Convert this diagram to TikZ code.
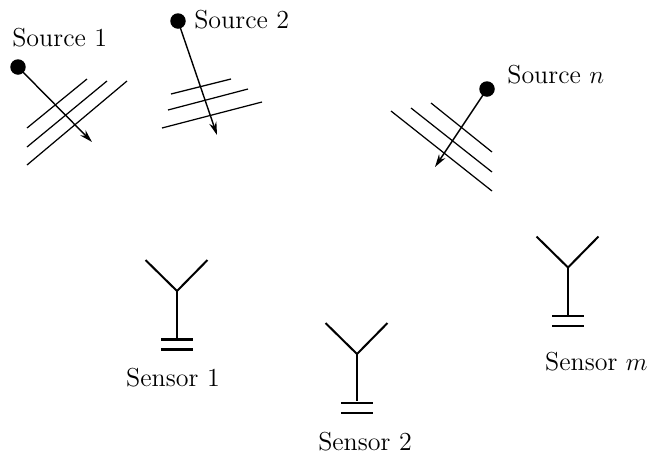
\documentclass[tikz,border=0pt]{standalone}
\usetikzlibrary{calc,arrows.meta}
\tikzset{
	srcdot/.style={circle, fill=black, inner sep=0pt, minimum size=0.31cm},
	label/.style={inner sep=0pt, font=\fontsize{14.8}{17}\selectfont},
	wave/.style={line width=0.7pt},
	ray/.style={line width=0.8pt, -{Stealth[length=2.6mm,width=1.5mm]}, shorten <=-1pt},
	ant/.style={line width=1.15pt}
}
\def\sensorshape[#1](#2){
	\coordinate (#1) at (#2);
	\coordinate (#1s) at ($(#1)+(0,47)$);
	\draw[ant] ($(#1)+(-31.5,-31)$) -- (#1) -- ($(#1)+(30.5,-31)$);
	\draw[ant] (#1) -- (#1s);
	\draw[ant] ($(#1s)+(-16,1.5)$) -- ($(#1s)+(16,1.5)$);
	\draw[ant] ($(#1s)+(-16,11.5)$) -- ($(#1s)+(16,11.5)$);
}

\begin{document}
\begin{tikzpicture}[x=0.02cm, y=-0.02cm]
		%%%%% START %%%%%
		\useasboundingbox (0, 0) rectangle (649, 454);
		
		\node[srcdot] (src1) at (18, 67) {};
		\node[srcdot] (src2) at (178, 21) {};
		\node[srcdot] (srcn) at (487, 89) {};
		
		\node[label, anchor=west] (lab1) at (12, 38) {Source 1};
		\node[label, anchor=west] (lab2) at (194, 20) {Source 2};
		\node[label, anchor=west] (labn) at (507, 75) {Source $n$};
		
		\coordinate (end1) at (92, 142);
		\coordinate (end2) at (217, 135);
		\coordinate (endn) at (435, 167);
		\draw[ray] (src1) -- (end1);
		\draw[ray] (src2) -- (end2);
		\draw[ray] (srcn) -- (endn);
		
		\draw[wave] (27, 128) -- (87, 79);
		\draw[wave] (27, 147) -- (107, 81);
		\draw[wave] (27, 165) -- (127, 81);
		
		\draw[wave] (171, 94) -- (231, 79);
		\draw[wave] (168, 110) -- (248, 89);
		\draw[wave] (162, 128) -- (262, 102);
		
		\draw[wave] (431, 103) -- (492, 152);
		\draw[wave] (411, 108) -- (492, 172);
		\draw[wave] (391, 111) -- (492, 191);
		
		\sensorshape[sen1](177, 291);
		\sensorshape[sen2](357, 354);
		\sensorshape[senm](568, 267.5);
		
		\node[label] (lab3) at (173, 378) {Sensor 1};
		\node[label] (lab4) at (365, 442) {Sensor 2};
		\node[label, anchor=east] (lab5) at (648, 362) {Sensor $m$};
		
		%%%%% END %%%%%
	\end{tikzpicture}
\end{document}
